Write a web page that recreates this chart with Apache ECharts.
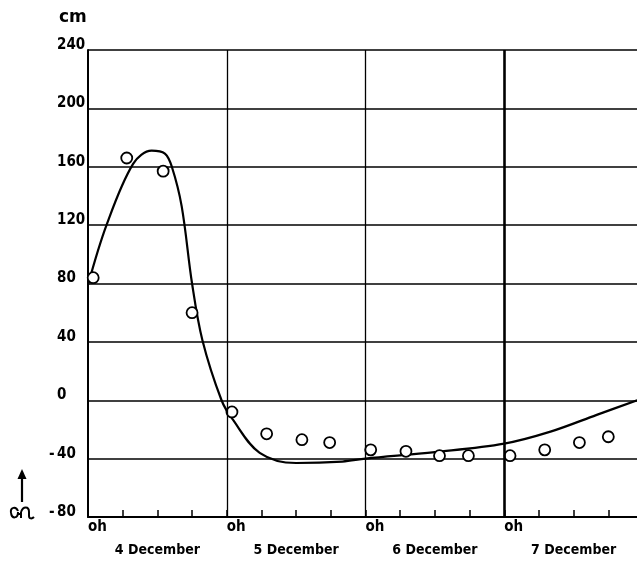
<!DOCTYPE html>
<html>
<head>
<meta charset="utf-8">
<script src="https://cdn.jsdelivr.net/npm/echarts@6/dist/echarts.min.js"></script>
<style>
  html, body { margin: 0; padding: 0; background: #fff; overflow: hidden; }
  #chart { width: 637px; height: 572px; }
</style>
</head>
<body>
<div id="chart"></div>
<script>
// Water level (cm) over 4–7 December, time in hours from 4 December 0h
const observedHours = [0.9, 6.7, 13, 18, 24.9, 30.9, 37, 41.8, 48.9, 55, 60.8, 65.8, 73, 79, 85, 90];
const observedLevel = [84, 166, 157, 60, -8, -23, -27, -29, -34, -35, -38, -38, -38, -34, -29, -25];

const curveHours = [0, 3.2, 7.8, 11, 13.3, 14.5, 16.2, 18, 19.8, 23.1, 25, 29.7, 36, 44, 48, 60, 72, 80, 88, 95];
const curveLevel = [79, 120, 162, 171, 169, 160, 133, 80, 41, 0, -13, -36, -43, -42, -40, -35.5, -29.7, -21.5, -10, 0];

const dayNames = ['4 December', '5 December', '6 December', '7 December'];
const dayLines = [24, 48, 72];
const yTicks = { min: -80, max: 240, step: 40 };
const hourTick = 6;

const FONT = '"DejaVu Sans Condensed", "DejaVu Sans", sans-serif';

const chart = echarts.init(document.getElementById('chart'), null, { renderer: 'canvas' });

const zip = (xs, ys) => xs.map((x, i) => [x, ys[i]]);

const ink = { stroke: '#000', lineWidth: 2, fill: 'none' };

const option = {
  backgroundColor: '#ffffff',
  animation: false,
  title: {
    text: 'cm', left: 54, top: 4,
    textStyle: { fontFamily: '"DejaVu Sans", sans-serif', fontWeight: 'bold', fontSize: 17, color: '#000' }
  },
  // four days span a little past the right edge of the page
  grid: { left: 88, width: 555, top: 50, bottom: 55, containLabel: false, outerBoundsMode: 'none' },
  xAxis: [
    {
      type: 'value', min: 0, max: 96, interval: hourTick, position: 'bottom',
      axisLine: { show: true, onZero: false, lineStyle: { color: '#000', width: 2 } },
      axisTick: { show: true, inside: true, length: 7, lineStyle: { color: '#000', width: 1.5 } },
      splitLine: { show: false },
      axisLabel: {
        show: true, margin: 3, align: 'left', verticalAlign: 'top',
        fontFamily: FONT, fontWeight: 'bold', fontSize: 15, color: '#000',
        formatter: v => (v % 24 === 0 && v < 96) ? 'oh' : ''
      }
    },
    {
      type: 'value', min: 0, max: 96, interval: 12, position: 'bottom',
      axisLine: { show: false, onZero: false }, axisTick: { show: false }, splitLine: { show: false },
      axisLabel: {
        show: true, margin: 26, align: 'center', verticalAlign: 'top',
        fontFamily: FONT, fontWeight: 'bold', fontSize: 14, color: '#000',
        formatter: v => (v % 24 === 12) ? dayNames[(v - 12) / 24] : ''
      }
    }
  ],
  yAxis: {
    type: 'value', min: yTicks.min, max: yTicks.max, interval: yTicks.step,
    axisLine: { show: true, lineStyle: { color: '#000', width: 2 } },
    axisTick: { show: false },
    splitLine: { show: true, lineStyle: { color: '#000', width: 1.5 } },
    axisLabel: {
      show: true, margin: 39, align: 'left', verticalAlign: 'bottom', lineHeight: 10,
      fontFamily: FONT, fontWeight: 'bold', fontSize: 15, color: '#000',
      formatter: v => (v < 0 ? '{m|-}' : '{m| }') + '{d|' + Math.abs(v) + '}',
      rich: {
        m: { width: 8, fontFamily: FONT, fontWeight: 'bold', fontSize: 15, color: '#000', lineHeight: 10 },
        d: { fontFamily: FONT, fontWeight: 'bold', fontSize: 15, color: '#000', lineHeight: 10 }
      }
    }
  },
  series: [
    {
      name: 'curve', type: 'line', xAxisIndex: 0,
      data: zip(curveHours, curveLevel),
      smooth: 0.35, showSymbol: false,
      lineStyle: { color: '#000', width: 2.2 },
      markLine: {
        silent: true, symbol: 'none', label: { show: false },
        lineStyle: { color: '#000', width: 1.3, type: 'solid' },
        data: dayLines.map(h => h === 72
          ? { xAxis: h, lineStyle: { color: '#000', width: 2.6, type: 'solid' } }
          : { xAxis: h })
      },
      z: 3
    },
    {
      name: 'observed', type: 'scatter', xAxisIndex: 0,
      data: zip(observedHours, observedLevel),
      symbol: 'circle', symbolSize: 11,
      itemStyle: { color: '#fff', borderColor: '#000', borderWidth: 1.8, opacity: 1 },
      z: 4
    }
  ],
  graphic: [
    // upward arrow
    { type: 'line', shape: { x1: 22, y1: 502, x2: 22, y2: 476 }, style: { stroke: '#000', lineWidth: 2.2 } },
    { type: 'polygon', shape: { points: [[22, 469], [17.5, 479], [26.5, 479]] }, style: { fill: '#000' } },
    // level symbol beneath the arrow
    { type: 'bezierCurve', shape: { x1: 18, y1: 511, cpx1: 16, cpy1: 506, cpx2: 10, cpy2: 507, x2: 11, y2: 513 }, style: ink },
    { type: 'bezierCurve', shape: { x1: 11, y1: 513, cpx1: 12, cpy1: 519, cpx2: 18, cpy2: 519, x2: 18, y2: 512 }, style: ink },
    { type: 'line', shape: { x1: 18, y1: 514, x2: 21, y2: 514 }, style: ink },
    { type: 'line', shape: { x1: 21, y1: 518, x2: 21, y2: 512 }, style: ink },
    { type: 'bezierCurve', shape: { x1: 21, y1: 512, cpx1: 23, cpy1: 506, cpx2: 29, cpy2: 506, x2: 29, y2: 512 }, style: ink },
    { type: 'line', shape: { x1: 29, y1: 512, x2: 29, y2: 516 }, style: ink },
    { type: 'bezierCurve', shape: { x1: 29, y1: 516, cpx1: 29, cpy1: 519, cpx2: 32, cpy2: 519, x2: 34, y2: 517 }, style: ink }
  ]
};

chart.setOption(option);
</script>
</body>
</html>
